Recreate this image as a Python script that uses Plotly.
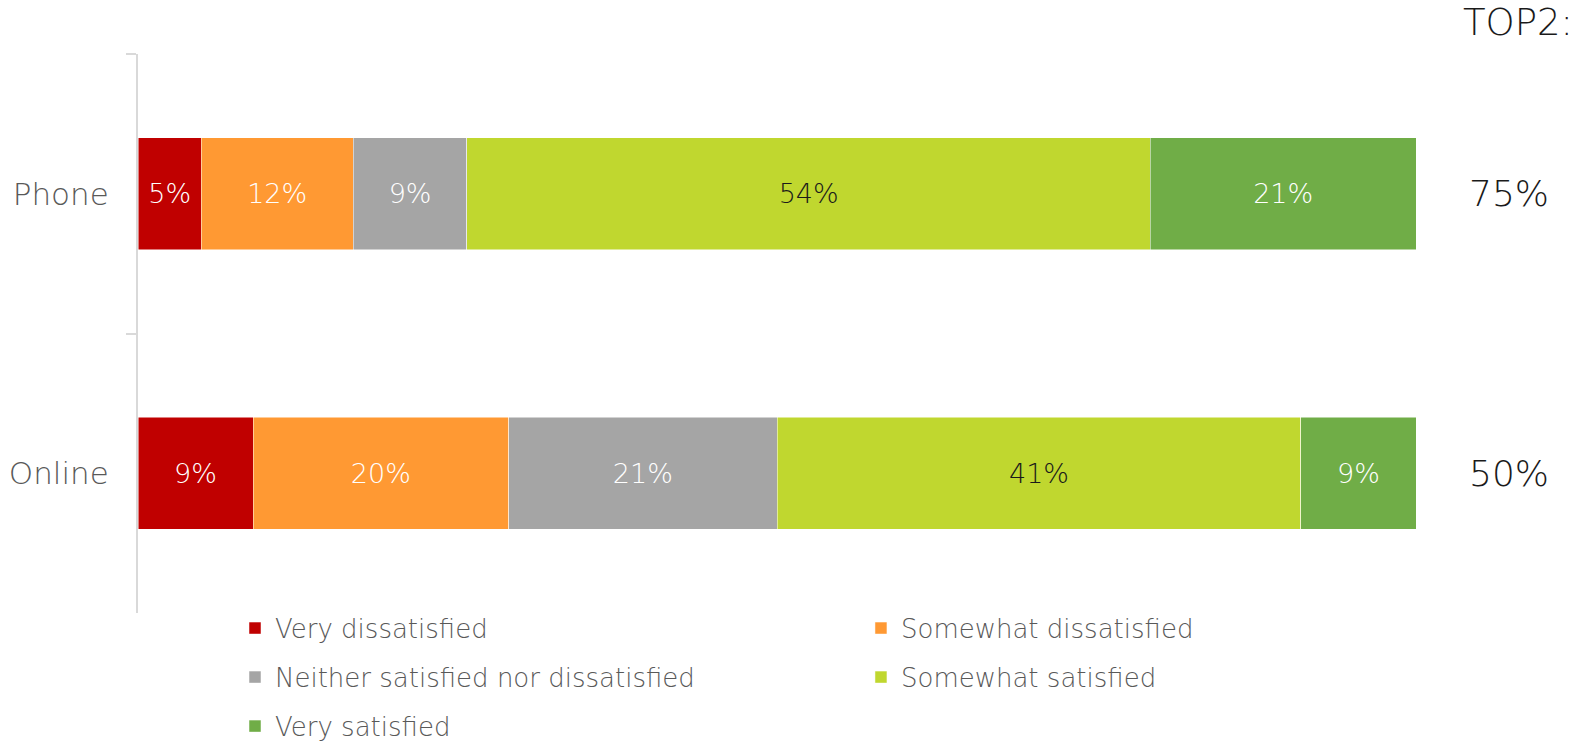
import plotly.graph_objects as go

# Satisfaction by contact channel (percent of respondents)
channels = ["Phone", "Online"]
levels = [
    "Very dissatisfied",
    "Somewhat dissatisfied",
    "Neither satisfied nor dissatisfied",
    "Somewhat satisfied",
    "Very satisfied",
]
very_dissatisfied = [5, 9]
somewhat_dissatisfied = [12, 20]
neither = [9, 21]
somewhat_satisfied = [54, 41]
very_satisfied = [21, 9]

series = [very_dissatisfied, somewhat_dissatisfied, neither, somewhat_satisfied, very_satisfied]
colors = ["#C00000", "#FF9933", "#A5A5A5", "#C0D72F", "#70AD47"]
text_colors = ["white", "white", "white", "#1a1a1a", "white"]

FONT = "DejaVu Sans"
W = 200
GRAY = "#595959"

# one legend per entry, laid out on a two-column grid below the plot
legend_ids = ["legend", "legend2", "legend3", "legend4", "legend5"]
legend_cols = [0, 1, 0, 1, 0]
legend_rows = [0, 0, 1, 1, 2]

fig = go.Figure()
for name, vals, col, tcol, lg in zip(levels, series, colors, text_colors, legend_ids):
    fig.add_trace(go.Bar(
        y=channels, x=vals, name=name, orientation="h",
        marker=dict(color=col, line=dict(color="white", width=0.5)),
        text=[f"{v}%" for v in vals], texttemplate="%{text}",
        textposition="inside", insidetextanchor="middle", textangle=0,
        constraintext="none",
        textfont=dict(family=FONT, size=27, color=tcol, weight=W),
        legend=lg, hoverinfo="skip",
    ))

# Top-2-box score: somewhat + very satisfied
top2 = [s + v for s, v in zip(somewhat_satisfied, very_satisfied)]
annotations = [dict(
    text="TOP2:", xref="paper", yref="paper", x=1.1244, y=1.057,
    xanchor="right", yanchor="middle", showarrow=False,
    font=dict(family=FONT, size=37, color="#1a1a1a", weight=W),
)]
for ch, t in zip(channels, top2):
    annotations.append(dict(
        text=f"{t}%", xref="paper", yref="y", x=1.0724, y=ch,
        xanchor="center", yanchor="middle", showarrow=False,
        font=dict(family=FONT, size=36, color="#1a1a1a", weight=W),
    ))

legend_layout = {}
for lg, c, r in zip(legend_ids, legend_cols, legend_rows):
    legend_layout[lg] = dict(
        orientation="h", xanchor="left", yanchor="top",
        x=0.0759 + c * 0.4898, y=0.0149 - r * 0.0877,
        font=dict(family=FONT, size=26, color=GRAY, weight=W),
        itemwidth=30, bgcolor="rgba(0,0,0,0)",
    )

fig.update_layout(
    width=1576, height=743,
    margin=dict(l=138, r=160, t=54, b=130, autoexpand=False),
    paper_bgcolor="white", plot_bgcolor="white",
    barmode="stack", barnorm="percent", bargap=0.6,
    showlegend=True,
    xaxis=dict(range=[0, 100], visible=False, fixedrange=True),
    yaxis=dict(
        autorange="reversed", showline=True, linecolor="#D9D9D9", linewidth=2,
        ticks="outside", ticklen=10, tickcolor="#D9D9D9", tickwidth=2,
        tickson="boundaries", showgrid=False, ticklabelstandoff=21,
        tickfont=dict(family=FONT, size=31, color=GRAY, weight=W),
    ),
    annotations=annotations,
    **legend_layout,
)

fig.write_html("out.html")
